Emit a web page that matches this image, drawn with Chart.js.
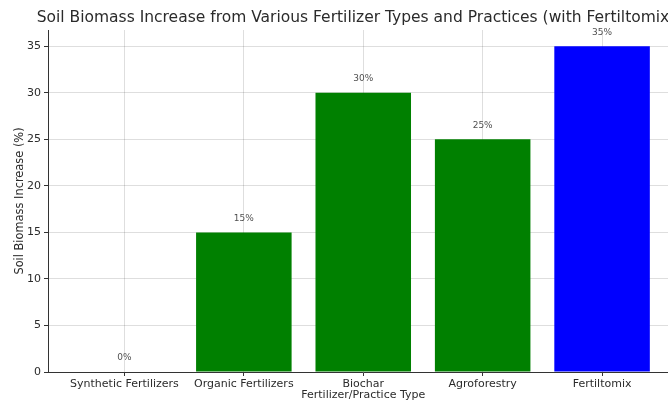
<!DOCTYPE html>
<html>
<head>
<meta charset="utf-8">
<script src="https://cdn.jsdelivr.net/npm/chart.js@4/dist/chart.umd.min.js"></script>
<style>
  html, body { margin: 0; padding: 0; overflow: hidden; background: #fff; }
  #c { display: block; }
</style>
</head>
<body>
<canvas id="c" width="700" height="400"></canvas>
<script>
// Fertilizer / practice categories and their soil biomass increase (%)
const categories = ['Synthetic Fertilizers', 'Organic Fertilizers', 'Biochar', 'Agroforestry', 'Fertiltomix'];
const biomassIncrease = [0, 15, 30, 25, 35];
const barColors = ['#008000', '#008000', '#008000', '#008000', '#0000ff'];
const yTickValues = [0, 5, 10, 15, 20, 25, 30, 35];

const FONT = '"DejaVu Sans", sans-serif';
const textColor = '#2b2b2b';

const chartTitle = 'Soil Biomass Increase from Various Fertilizer Types and Practices (with Fertiltomix)';
const xTitle = 'Fertilizer/Practice Type';
const yTitle = 'Soil Biomass Increase (%)';

// Percent labels above each bar plus chart / axis titles
const annotate = {
  id: 'annotate',
  afterDatasetsDraw(chart) {
    const ctx = chart.ctx;
    const meta = chart.getDatasetMeta(0);
    ctx.save();
    ctx.font = '9px ' + FONT;
    ctx.fillStyle = '#505050';
    ctx.textAlign = 'center';
    ctx.textBaseline = 'middle';
    meta.data.forEach((bar, i) => {
      ctx.fillText(biomassIncrease[i] + '%', bar.x, bar.y - 14);
    });
    ctx.restore();
  },
  afterDraw(chart) {
    const ctx = chart.ctx;
    const a = chart.chartArea;
    const cx = (a.left + a.right) / 2;
    ctx.save();
    ctx.fillStyle = textColor;
    ctx.textAlign = 'center';
    ctx.textBaseline = 'middle';
    ctx.font = '15.5px ' + FONT;
    ctx.fillText(chartTitle, 356, 18);
    ctx.font = '11px ' + FONT;
    ctx.fillText(xTitle, cx, 395);
    ctx.font = '11.4px ' + FONT;
    ctx.translate(20, (a.top + a.bottom) / 2);
    ctx.rotate(-Math.PI / 2);
    ctx.fillText(yTitle, 0, 0);
    ctx.restore();
  }
};

const gridStyle = {
  color: 'rgba(0,0,0,0.13)',
  lineWidth: 1,
  borderDash: [2, 2],
  offset: false,
  drawTicks: true,
  tickLength: 4,
  tickColor: '#333',
  tickWidth: 1,
  tickBorderDash: []
};

new Chart(document.getElementById('c'), {
  type: 'bar',
  data: {
    datasets: [{
      data: biomassIncrease.map((v, i) => ({ x: i, y: v })),
      backgroundColor: barColors,
      borderWidth: 0,
      barPercentage: 0.8,
      categoryPercentage: 1.0
    }]
  },
  options: {
    responsive: false,
    animation: false,
    devicePixelRatio: 1,
    layout: { padding: { top: 30, right: 21.5, bottom: 0, left: 0 } },
    plugins: {
      legend: { display: false },
      title: { display: false },
      tooltip: { enabled: false }
    },
    scales: {
      x: {
        type: 'linear',
        offset: false,
        min: -0.64,
        max: 4.64,
        z: 1,
        afterBuildTicks: (s) => { s.ticks = categories.map((_, i) => ({ value: i })); },
        afterFit: (s) => { s.height = 28; },
        ticks: {
          autoSkip: false,
          maxRotation: 0,
          padding: 2,
          color: textColor,
          font: { family: FONT, size: 11 },
          callback: (v) => categories[v]
        },
        grid: gridStyle,
        border: { display: true, color: '#333', width: 1 }
      },
      y: {
        type: 'linear',
        min: 0,
        max: 36.75,
        z: 1,
        afterBuildTicks: (s) => { s.ticks = yTickValues.map(v => ({ value: v })); },
        afterFit: (s) => { s.width = 48; },
        ticks: {
          padding: 3,
          color: textColor,
          font: { family: FONT, size: 11 }
        },
        grid: gridStyle,
        border: { display: true, color: '#333', width: 1 }
      }
    }
  },
  plugins: [annotate]
});
</script>
</body>
</html>
